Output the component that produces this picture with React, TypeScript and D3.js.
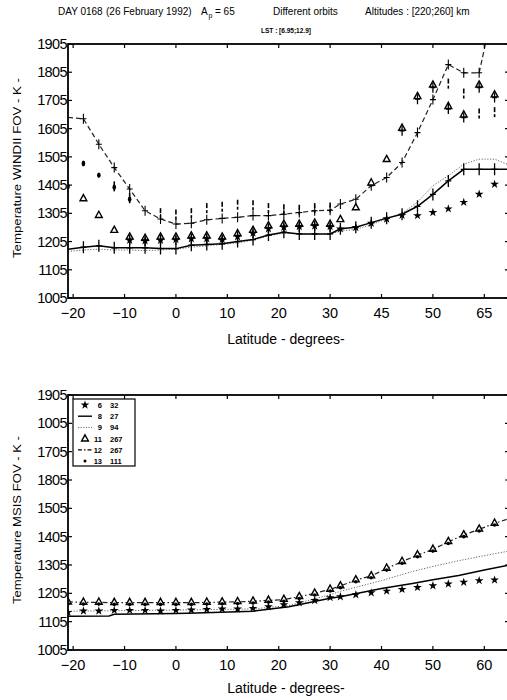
import React from 'react';
import * as d3 from 'd3';

// ---------- axes ----------
const xTickVals = [-20, -10, 0, 10, 20, 30, 40, 50, 60];
const xTickLabelsTop = ['−20', '−10', '0', '10', '20', '30', '45', '50', '65'];
const xTickLabelsBot = ['−20', '−10', '0', '10', '20', '30', '40', '50', '60'];
const yTickVals = [1005, 1105, 1205, 1305, 1405, 1505, 1605, 1705, 1805, 1905];
const yTickLabelsTop = ['1005', '1105', '1205', '1305', '1405', '1505', '1605', '1705', '1805', '1905'];
const yTickLabelsBot = ['1005', '1105', '1205', '1305', '1405', '1505', '1805', '1705', '1005', '1905'];

// ---------- top panel (WINDII FOV) ----------
const latTop = [-21, -18, -15, -12, -9, -6, -3, 0, 3, 6, 9, 12, 15, 18, 21, 24, 27, 30, 32, 35, 38, 41, 44, 47, 50, 53, 56, 59, 62, 65];
const solidTop = [1178, 1185, 1190, 1183, 1183, 1183, 1180, 1180, 1192, 1195, 1197, 1205, 1212, 1228, 1238, 1232, 1232, 1232, 1250, 1256, 1272, 1288, 1302, 1330, 1372, 1420, 1461, 1461, 1461, 1461];
const dottedTop = [1170, 1175, 1178, 1175, 1175, 1173, 1175, 1178, 1185, 1190, 1195, 1200, 1210, 1225, 1235, 1232, 1232, 1232, 1242, 1248, 1265, 1285, 1305, 1345, 1403, 1438, 1479, 1497, 1497, 1475];
const dashedTop = [1645, 1640, 1550, 1467, 1391, 1314, 1285, 1267, 1270, 1282, 1287, 1291, 1297, 1297, 1302, 1308, 1314, 1316, 1338, 1355, 1403, 1432, 1485, 1591, 1708, 1832, 1803, 1803, 2055, 2300];

const triLatTop = [-18, -15, -12, -9, -6, -3, 0, 3, 6, 9, 12, 15, 18, 21, 24, 27, 30, 32, 35, 38, 41, 44, 47, 50, 53, 56, 59, 62];
const triTop = [1358, 1299, 1246, 1222, 1218, 1222, 1222, 1226, 1226, 1222, 1234, 1246, 1262, 1268, 1268, 1272, 1268, 1284, 1326, 1414, 1497, 1608, 1720, 1761, 1685, 1655, 1761, 1726];

const starLatTop = [-9, -6, -3, 0, 3, 6, 9, 12, 15, 18, 21, 24, 27, 30, 32, 35, 38, 41, 44, 47, 50, 53, 56, 59, 62];
const starTop = [1210, 1208, 1210, 1212, 1215, 1215, 1212, 1222, 1235, 1250, 1256, 1258, 1260, 1258, 1250, 1255, 1270, 1285, 1298, 1297, 1308, 1321, 1344, 1373, 1408];

const dotLatTop = [-21, -18, -15, -12, -9];
const dotTop = [1400, 1482, 1440, 1397, 1355];

const barLatTop = [-12, -9, -3, 0, 3, 6, 9, 12, 15, 18, 21, 24, 27, 30, 53, 56, 59, 62];
const barTop = [1397, 1355, 1302, 1297, 1302, 1320, 1325, 1332, 1330, 1320, 1316, 1314, 1320, 1322, 1761, 1726, 1655, 1660];

// ---------- bottom panel (MSIS FOV) ----------
const latBot = [-21, -18, -15, -12, -9, -6, -3, 0, 3, 6, 9, 12, 15, 18, 21, 24, 27, 30, 32, 35, 38, 41, 44, 47, 50, 53, 56, 59, 62, 65];
const dashedBot = [1175, 1173, 1173, 1172, 1172, 1172, 1172, 1172, 1172, 1173, 1174, 1175, 1177, 1180, 1183, 1193, 1205, 1219, 1231, 1252, 1266, 1293, 1317, 1340, 1360, 1387, 1411, 1431, 1452, 1470];
const solidLatBot = [-21, -13, -12, 0, 4, 15, 22, 30, 32, 40, 46, 50, 55, 60, 65];
const solidBot = [1124, 1125, 1131, 1134, 1136, 1142, 1158, 1188, 1193, 1222, 1240, 1253, 1268, 1287, 1305];
const dottedLatBot = [-21, 0, 15, 22, 30, 32, 40, 46, 50, 55, 60, 65];
const dottedBot = [1142, 1146, 1150, 1162, 1200, 1212, 1250, 1282, 1300, 1320, 1338, 1355];

const markLatBot = [-21, -18, -15, -12, -9, -6, -3, 0, 3, 6, 9, 12, 15, 18, 21, 24, 27, 30, 32, 35, 38, 41, 44, 47, 50, 53, 56, 59, 62];
const triBot = [1176, 1175, 1175, 1174, 1174, 1174, 1174, 1174, 1174, 1175, 1176, 1177, 1179, 1182, 1185, 1195, 1207, 1221, 1233, 1254, 1268, 1295, 1319, 1342, 1362, 1389, 1413, 1433, 1454];
const dotBot = [1168, 1167, 1167, 1166, 1166, 1166, 1166, 1166, 1166, 1167, 1168, 1169, 1171, 1174, 1177, 1187, 1199, 1213, 1225, 1246, 1260, 1287, 1311, 1334, 1354, 1381, 1405, 1425, 1446];
const starBot = [1138, 1143, 1143, 1145, 1145, 1145, 1143, 1145, 1146, 1148, 1150, 1150, 1152, 1158, 1165, 1172, 1180, 1190, 1193, 1200, 1207, 1213, 1219, 1226, 1232, 1238, 1244, 1250, 1252];

// ---------- legend ----------
const legendKeys = ['star', 'solid', 'dotted', 'triangle', 'dashdot', 'dot'];
const legendA = ['6', '8', '9', '11', '12', '13'];
const legendB = ['32', '27', '94', '267', '267', '111'];

const FONT = 'Liberation Sans, Arial, Helvetica, sans-serif';
const L = 68, R = 510;

const starPath = d3.symbol().type(d3.symbolStar).size(24)()!;

function Tri({ x, y }: { x: number; y: number }) {
  return <path d={`M${x},${y - 3.8} L${x + 3.4},${y + 2.4} L${x - 3.4},${y + 2.4} Z`} fill="white" stroke="black" strokeWidth={1.4} />;
}
function Plus({ x, y, w = 3, h = 5, sw = 1.3 }: { x: number; y: number; w?: number; h?: number; sw?: number }) {
  return <path d={`M${x - w},${y} H${x + w} M${x},${y - h} V${y + h}`} stroke="black" strokeWidth={sw} fill="none" />;
}
function Star({ x, y }: { x: number; y: number }) {
  return <path d={starPath} transform={`translate(${x},${y})`} fill="black" />;
}

function Panel({ top, bottom, yLabels, xLabels, clipId, children }: any) {
  const x = d3.scaleLinear().domain([-21, 65]).range([L, R]);
  const y = d3.scaleLinear().domain([1005, 1905]).range([bottom, top]);
  return (
    <g>
      <defs>
        <clipPath id={clipId}>
          <rect x={L} y={top} width={R - L} height={bottom - top} />
        </clipPath>
      </defs>
      <g clipPath={`url(#${clipId})`}>{children(x, y)}</g>
      <rect x={L} y={top} width={R - L} height={bottom - top} fill="none" stroke="black" strokeWidth={1.8} />
      {xTickVals.map((v, i) => (
        <g key={'xt' + i}>
          <line x1={x(v)} x2={x(v)} y1={bottom} y2={bottom - 4} stroke="black" strokeWidth={1.2} />
          <line x1={x(v)} x2={x(v)} y1={top} y2={top + 4} stroke="black" strokeWidth={1.2} />
          <text x={x(v)} y={bottom + 20} textAnchor="middle" fontFamily={FONT} fontSize={14.5}>{xLabels[i]}</text>
        </g>
      ))}
      {yTickVals.map((v, i) => (
        <g key={'yt' + i}>
          <line x1={L} x2={L + 4} y1={y(v)} y2={y(v)} stroke="black" strokeWidth={1.2} />
          <line x1={R} x2={R - 5} y1={y(v)} y2={y(v)} stroke="black" strokeWidth={1.2} />
          <text x={L - 1} y={y(v) + 5} textAnchor="end" fontFamily={FONT} fontSize={14.5} letterSpacing={-0.6}>{yLabels[i]}</text>
        </g>
      ))}
    </g>
  );
}

export default function App() {
  const lineOf = (x: any, y: any, lats: number[], vals: number[]) =>
    d3.line<number>().x((_, i) => x(lats[i])).y((d) => y(d))(vals) || '';

  return (
    <svg width={507} height={700} style={{ position: 'absolute', left: 0, top: 0, background: 'white' }}>
      <rect x={0} y={0} width={507} height={700} fill="white" />
      {/* title */}
      <g fontFamily={FONT} fontSize={10}>
        <text x={58} y={15}>DAY 0168</text>
        <text x={106} y={15}>(26 February 1992)</text>
        <text x={201} y={15}>A</text>
        <text x={208.5} y={18} fontSize={7}>p</text>
        <text x={215} y={15}>= 65</text>
        <text x={273} y={15}>Different orbits</text>
        <text x={365} y={15}>Altitudes : [220;260] km</text>
        <text x={286} y={33} fontSize={6.5} fontWeight="bold" textAnchor="middle">LST : [6.95;12.9]</text>
      </g>

      {/* top panel */}
      <Panel top={44} bottom={298} yLabels={yTickLabelsTop} xLabels={xTickLabelsTop} clipId="clipTop">
        {(x: any, y: any) => (
          <g>
            <path d={lineOf(x, y, latTop, dottedTop)} fill="none" stroke="#666" strokeWidth={1} strokeDasharray="1.2,1.6" />
            <path d={lineOf(x, y, latTop, solidTop)} fill="none" stroke="black" strokeWidth={1.5} />
            <path d={lineOf(x, y, latTop, dashedTop)} fill="none" stroke="#222" strokeWidth={1.2} strokeDasharray="5,3" />
            {latTop.map((lt, i) => (i > 0 && i < latTop.length - 1 ? <Plus key={'ps' + i} x={x(lt)} y={y(solidTop[i])} w={3} h={6} /> : null))}
            {latTop.map((lt, i) => (i > 0 && i < latTop.length - 2 ? <Plus key={'pd' + i} x={x(lt)} y={y(dashedTop[i])} w={3} h={5} sw={1.1} /> : null))}
            {triLatTop.map((lt, i) => <Tri key={'tt' + i} x={x(lt)} y={y(triTop[i])} />)}
            {starLatTop.map((lt, i) => <Star key={'st' + i} x={x(lt)} y={y(starTop[i])} />)}
            {triLatTop.map((lt, i) => (lt >= 44 || (lt >= -9 && lt <= 30) ? <Plus key={'pt' + i} x={x(lt)} y={y(triTop[i]) + 3} w={2.5} h={5} /> : null))}
            {dotLatTop.map((lt, i) => <ellipse key={'dt' + i} cx={x(lt)} cy={y(dotTop[i])} rx={1.8} ry={2.8} fill="black" />)}
            {barLatTop.map((lt, i) => (
              <g key={'bt' + i}>
                <line x1={x(lt)} x2={x(lt)} y1={y(barTop[i]) - 6} y2={y(barTop[i]) - 1} stroke="black" strokeWidth={1.6} />
                <line x1={x(lt)} x2={x(lt)} y1={y(barTop[i]) + 1} y2={y(barTop[i]) + 4} stroke="black" strokeWidth={1.6} />
              </g>
            ))}
          </g>
        )}
      </Panel>
      <text x={286} y={344} textAnchor="middle" fontFamily={FONT} fontSize={14}>Latitude - degrees-</text>
      <text transform="translate(21,168) rotate(-90)" textAnchor="middle" fontFamily={FONT} fontSize={10.5} textLength={180} lengthAdjust="spacingAndGlyphs">Temperature WINDII FOV - K -</text>

      {/* bottom panel */}
      <Panel top={395} bottom={650} yLabels={yTickLabelsBot} xLabels={xTickLabelsBot} clipId="clipBot">
        {(x: any, y: any) => (
          <g>
            <path d={lineOf(x, y, dottedLatBot, dottedBot)} fill="none" stroke="#666" strokeWidth={1} strokeDasharray="1.2,1.6" />
            <path d={lineOf(x, y, solidLatBot, solidBot)} fill="none" stroke="black" strokeWidth={1.5} />
            <path d={lineOf(x, y, latBot, dashedBot)} fill="none" stroke="#222" strokeWidth={1.2} strokeDasharray="5,2.5,1.5,2.5" />
            {markLatBot.map((lt, i) => <Star key={'sb' + i} x={x(lt)} y={y(starBot[i])} />)}
            {markLatBot.map((lt, i) => <Tri key={'tb' + i} x={x(lt)} y={y(triBot[i])} />)}
            {markLatBot.map((lt, i) => <circle key={'db' + i} cx={x(lt)} cy={y(dotBot[i])} r={1.8} fill="black" />)}
          </g>
        )}
      </Panel>
      <text x={286} y={693} textAnchor="middle" fontFamily={FONT} fontSize={14}>Latitude - degrees-</text>
      <text transform="translate(21,520) rotate(-90)" textAnchor="middle" fontFamily={FONT} fontSize={10.5} textLength={168} lengthAdjust="spacingAndGlyphs">Temperature MSIS FOV - K -</text>

      {/* legend */}
      <g>
        <rect x={73} y={399} width={62} height={67} fill="white" stroke="black" strokeWidth={1.2} />
        {legendKeys.map((k, i) => {
          const yy = 405 + i * 11.2;
          const cx = 85;
          let sym: any = null;
          if (k === 'star') sym = <Star x={cx} y={yy} />;
          else if (k === 'solid') sym = <line x1={78} x2={92} y1={yy} y2={yy} stroke="black" strokeWidth={1.4} />;
          else if (k === 'dotted') sym = <line x1={78} x2={92} y1={yy} y2={yy} stroke="#666" strokeWidth={1} strokeDasharray="1.2,1.4" />;
          else if (k === 'triangle') sym = <Tri x={cx} y={yy} />;
          else if (k === 'dashdot') sym = <line x1={78} x2={92} y1={yy} y2={yy} stroke="black" strokeWidth={1.2} strokeDasharray="4,2,1.5,2" />;
          else sym = <circle cx={cx} cy={yy} r={1.5} fill="black" />;
          return (
            <g key={'lg' + i}>
              {sym}
              <text x={102} y={yy + 3} textAnchor="end" fontFamily={FONT} fontSize={7.5} fontWeight="bold">{legendA[i]}</text>
              <text x={110} y={yy + 3} fontFamily={FONT} fontSize={7.5} fontWeight="bold">{legendB[i]}</text>
            </g>
          );
        })}
      </g>
    </svg>
  );
}
